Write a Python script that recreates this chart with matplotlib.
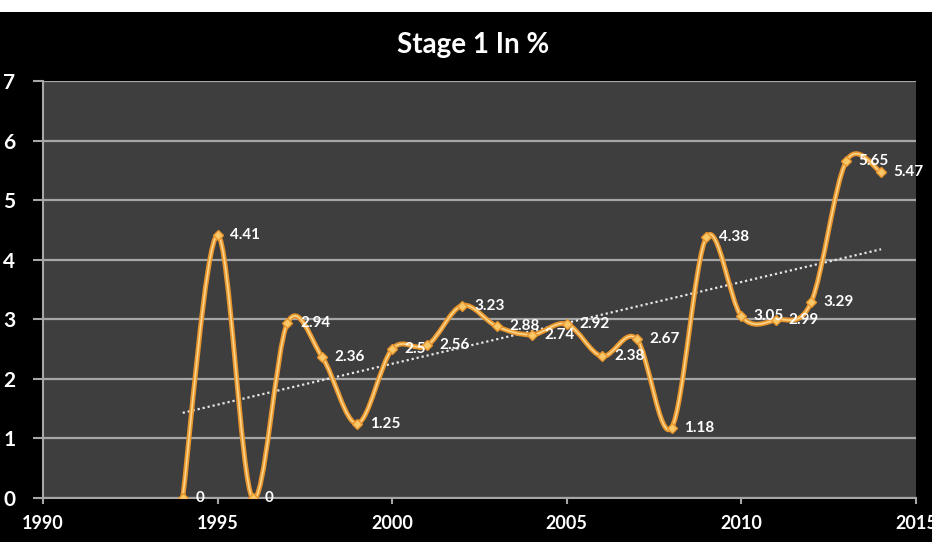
import matplotlib
matplotlib.use("Agg")
import matplotlib.pyplot as plt
import numpy as np
from matplotlib.path import Path
from matplotlib.patches import PathPatch, Rectangle

plt.rcParams['font.family'] = ['Lato', 'DejaVu Sans']

years = [1994, 1995, 1996, 1997, 1998, 1999, 2000, 2001, 2002, 2003, 2004,
         2005, 2006, 2007, 2008, 2009, 2010, 2011, 2012, 2013, 2014]
stage1 = [0, 4.41, 0, 2.94, 2.36, 1.25, 2.5, 2.56, 3.23, 2.88, 2.74,
          2.92, 2.38, 2.67, 1.18, 4.38, 3.05, 2.99, 3.29, 5.65, 5.47]
x_ticks = [1990, 1995, 2000, 2005, 2010, 2015]
y_ticks = [0, 1, 2, 3, 4, 5, 6, 7]

fig = plt.figure(figsize=(9.32, 5.42), dpi=100, facecolor='black')
fig.patches.append(Rectangle((0, 1 - 12 / 542), 1, 12 / 542, transform=fig.transFigure,
                             facecolor='white', edgecolor='none', zorder=0))
ax = fig.add_axes([43 / 932, 44 / 542, 873 / 932, 417 / 542])
ax.set_facecolor('#3e3e3e')

x = np.array(years, dtype=float)
y = np.array(stage1, dtype=float)

# smoothed line like excel (catmull-rom as bezier)
pts = np.column_stack([x, y])
verts = [pts[0]]
codes = [Path.MOVETO]
n = len(pts)
for i in range(n - 1):
    p0 = pts[max(i - 1, 0)]
    p1 = pts[i]
    p2 = pts[i + 1]
    p3 = pts[min(i + 2, n - 1)]
    verts += [p1 + (p2 - p0) / 6, p2 - (p3 - p1) / 6, p2]
    codes += [Path.CURVE4] * 3
path = Path(verts, codes)
ax.add_patch(PathPatch(path, facecolor='none', edgecolor='#e8952c', lw=3.6, zorder=4))
ax.add_patch(PathPatch(path, facecolor='none', edgecolor='#f9d48a', lw=1.2, zorder=5))
ax.plot(x, y, ls='none', marker='D', ms=5, mfc='#f8c868', mec='#e8952c', zorder=6)

# trend line
k, b = np.polyfit(x, y, 1)
ax.plot([x[0], x[-1]], [k * x[0] + b, k * x[-1] + b], color='#e6e6e6', lw=1.6,
        ls=(0, (1, 1.3)), zorder=3)

for xi, yi in zip(years, stage1):
    ax.annotate(f'{yi:g}', (xi, yi), xytext=(9, 0), textcoords='offset points',
                ha='left', va='center', color='white', fontsize=11, fontweight='bold',
                zorder=7)

ax.set_xlim(1990, 2015)
ax.set_ylim(0, 7)
ax.set_xticks(x_ticks)
ax.set_yticks(y_ticks)
ax.grid(axis='y', color='#a6a6a6', lw=1.6)
ax.set_axisbelow(True)
for side in ['top', 'right']:
    ax.spines[side].set_visible(False)
ax.spines['left'].set_color('#a6a6a6')
ax.spines['bottom'].set_color('#a6a6a6')
ax.spines['left'].set_linewidth(1.5)
ax.spines['bottom'].set_linewidth(1.5)
ax.tick_params(axis='y', colors='#a6a6a6', length=7, width=1.5, pad=13,
               labelcolor='white', labelsize=15)
ax.tick_params(axis='x', colors='#a6a6a6', length=4, width=1.5, pad=8,
               labelcolor='white', labelsize=13)
for lab in ax.get_xticklabels() + ax.get_yticklabels():
    lab.set_fontweight('bold')

fig.text(473 / 932, 1 - 45 / 542, 'Stage 1 In %', ha='center', va='center',
         color='white', fontsize=20, fontweight='bold')

fig.savefig('out.png', dpi=100, facecolor='black')
